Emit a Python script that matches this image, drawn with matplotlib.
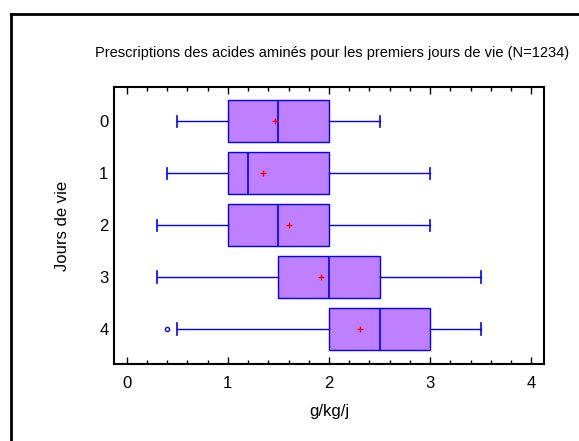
import matplotlib.pyplot as plt
from matplotlib.lines import Line2D
from matplotlib.ticker import MultipleLocator

plt.rcParams['font.family'] = ['Liberation Sans', 'DejaVu Sans']

days = [0, 1, 2, 3, 4]
whislo = [0.5, 0.4, 0.3, 0.3, 0.5]
q1 = [1.0, 1.0, 1.0, 1.5, 2.0]
med = [1.5, 1.2, 1.5, 2.0, 2.5]
q3 = [2.0, 2.0, 2.0, 2.5, 3.0]
whishi = [2.5, 3.0, 3.0, 3.5, 3.5]
means = [1.47, 1.35, 1.6, 1.92, 2.31]
fliers = [[], [], [], [], [0.4]]

stats = []
for i in range(len(days)):
    stats.append(dict(whislo=whislo[i], q1=q1[i], med=med[i], q3=q3[i],
                      whishi=whishi[i], mean=means[i], fliers=fliers[i],
                      label=str(days[i])))

fig = plt.figure(figsize=(5.79, 4.41), dpi=100)
ax = fig.add_axes([114/579, 1-364/441, 430/579, 277/441])

blue = '#0000ff'
ax.bxp(stats, positions=days, vert=False, widths=0.81, patch_artist=True,
       showmeans=True, showfliers=True,
       boxprops=dict(facecolor='#bf80ff', edgecolor=blue, linewidth=1),
       medianprops=dict(color=blue, linewidth=1.2),
       whiskerprops=dict(color=blue, linewidth=1),
       capprops=dict(color=blue, linewidth=1.2),
       capwidths=0.22,
       meanprops=dict(marker='+', markeredgecolor='#ff0000', markersize=4, markeredgewidth=1),
       flierprops=dict(marker='o', markeredgecolor=blue, markerfacecolor='none',
                       markersize=3, markeredgewidth=1))

ax.set_xlim(-0.125, 4.125)
ax.set_ylim(4.67, -0.66)
ax.xaxis.set_major_locator(MultipleLocator(1))
ax.xaxis.set_minor_locator(MultipleLocator(0.2))
ax.tick_params(axis='x', which='both', direction='in', top=True, labelsize=12, pad=9)
ax.tick_params(axis='x', which='major', length=5, width=1)
ax.tick_params(axis='x', which='minor', length=3, width=1)
ax.tick_params(axis='y', length=0, labelsize=12, pad=4)
for s in ax.spines.values():
    s.set_linewidth(1.5)

ax.set_xlabel('g/kg/j', fontsize=12, labelpad=9)
ax.set_ylabel('Jours de vie', fontsize=12, labelpad=21)
fig.text(332/579, 1-53/441, 'Prescriptions des acides aminés pour les premiers jours de vie (N=1234)',
         ha='center', va='center', fontsize=10.5)

# outer frame (left and top edges visible)
fig.add_artist(Line2D([11/579, 11/579], [0, 1-14/441], color='black', lw=2, transform=fig.transFigure))
fig.add_artist(Line2D([11/579, 1], [1-14/441, 1-14/441], color='black', lw=2, transform=fig.transFigure))

fig.savefig('out.png', dpi=100)
